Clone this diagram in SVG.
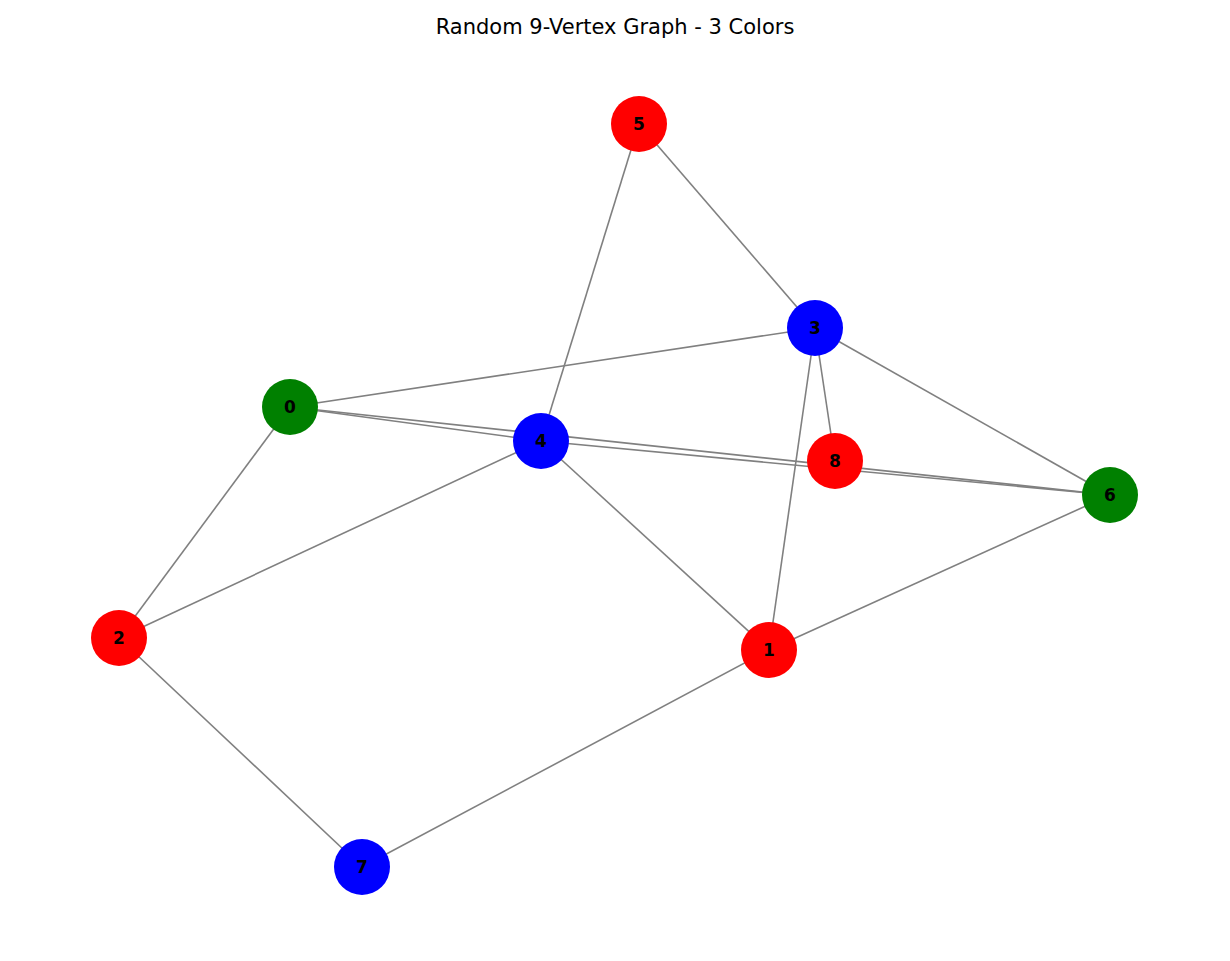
<svg xmlns="http://www.w3.org/2000/svg" width="1230" height="961" viewBox="0 0 1230 961">
<style>
.e{stroke:#808080;stroke-width:1.6;fill:none}
.n text{font-family:"DejaVu Sans",sans-serif;font-weight:bold;font-size:17px;text-anchor:middle;dominant-baseline:central;fill:#000}
.r{fill:#ff0000}.g{fill:#008000}.b{fill:#0000ff}
</style>
<rect width="1230" height="961" fill="#fff"/>
<text x="615" y="34" font-family="DejaVu Sans,sans-serif" font-size="21" text-anchor="middle">Random 9-Vertex Graph - 3 Colors</text>
<g id="edges">
<line class="e" x1="639" y1="124" x2="541" y2="441"/>
<line class="e" x1="639" y1="124" x2="815" y2="328"/>
<line class="e" x1="815" y1="328" x2="290" y2="407"/>
<line class="e" x1="815" y1="328" x2="835" y2="461"/>
<line class="e" x1="815" y1="328" x2="769" y2="650"/>
<line class="e" x1="815" y1="328" x2="1110" y2="495"/>
<line class="e" x1="290" y1="407" x2="541" y2="441"/>
<line class="e" x1="290" y1="407" x2="1110" y2="495"/>
<line class="e" x1="541" y1="441" x2="1110" y2="495"/>
<line class="e" x1="290" y1="407" x2="119" y2="638"/>
<line class="e" x1="541" y1="441" x2="119" y2="638"/>
<line class="e" x1="541" y1="441" x2="769" y2="650"/>
<line class="e" x1="119" y1="638" x2="362" y2="867"/>
<line class="e" x1="362" y1="867" x2="769" y2="650"/>
<line class="e" x1="769" y1="650" x2="1110" y2="495"/>
</g>
<g id="n0" class="n"><circle class="g" cx="290" cy="407" r="28"/><text x="290" y="407">0</text></g>
<g id="n1" class="n"><circle class="r" cx="769" cy="650" r="28"/><text x="769" y="650">1</text></g>
<g id="n2" class="n"><circle class="r" cx="119" cy="638" r="28"/><text x="119" y="638">2</text></g>
<g id="n3" class="n"><circle class="b" cx="815" cy="328" r="28"/><text x="815" y="328">3</text></g>
<g id="n4" class="n"><circle class="b" cx="541" cy="441" r="28"/><text x="541" y="441">4</text></g>
<g id="n5" class="n"><circle class="r" cx="639" cy="124" r="28"/><text x="639" y="124">5</text></g>
<g id="n6" class="n"><circle class="g" cx="1110" cy="495" r="28"/><text x="1110" y="495">6</text></g>
<g id="n7" class="n"><circle class="b" cx="362" cy="867" r="28"/><text x="362" y="867">7</text></g>
<g id="n8" class="n"><circle class="r" cx="835" cy="461" r="28"/><text x="835" y="461">8</text></g>
</svg>
